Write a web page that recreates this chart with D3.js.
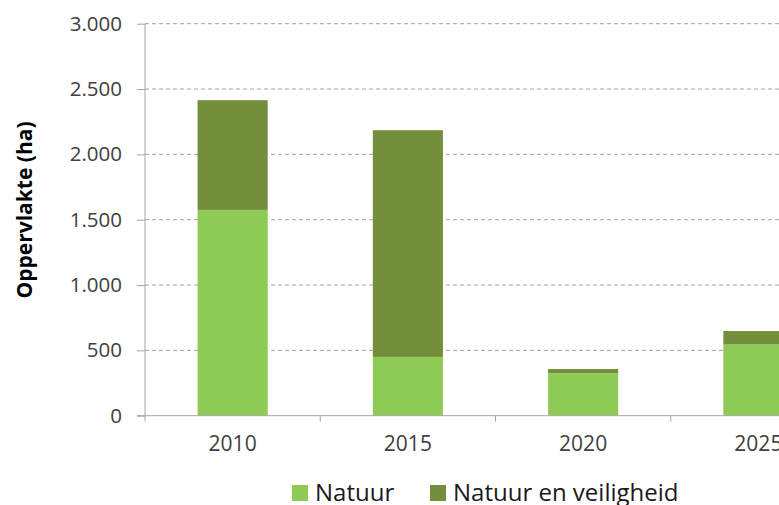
<!DOCTYPE html>
<html>
<head>
<meta charset="utf-8">
<script src="https://cdn.jsdelivr.net/npm/d3@7"></script>
<style>
  body { margin: 0; background: #fff; }
  svg { display: block; font-family: "Open Sans", "DejaVu Sans", sans-serif; }
</style>
</head>
<body>
<div class="chart"></div>
<script>
var years = ['2010', '2015', '2020', '2025'];
var natuur = [1575, 450, 325, 545];
var natuurVeiligheid = [840, 1735, 32, 103];
var yTicks = [0, 500, 1000, 1500, 2000, 2500, 3000];
var seriesNames = ['Natuur', 'Natuur en veiligheid'];
var colors = ['#8fc956', '#748f3b'];

var width = 779, height = 505;
var margin = { top: 23.7, left: 145, bottom: 89.3 };
var plotW = 701; // plot runs past the right edge, as in the original
var plotH = height - margin.top - margin.bottom;

var x = d3.scaleBand().domain(years).range([0, plotW]).paddingInner(0.6).paddingOuter(0.3);
var y = d3.scaleLinear().domain([0, 3000]).range([plotH, 0]);

var fmt = function(d) { return d3.format(',')(d).replace(/,/g, '.'); };

var svg = d3.select('.chart').append('svg')
    .attr('width', width)
    .attr('height', height);

var g = svg.append('g')
    .attr('transform', 'translate(' + margin.left + ',' + margin.top + ')');

// dashed gridlines
g.selectAll('.grid')
    .data(yTicks.filter(function(d) { return d > 0; }))
    .enter().append('line')
    .attr('x1', 0).attr('x2', plotW)
    .attr('y1', function(d) { return y(d); })
    .attr('y2', function(d) { return y(d); })
    .attr('stroke', '#a3a3a3')
    .attr('stroke-width', 1)
    .attr('stroke-dasharray', '4,3');

// stacked bars
var stack = d3.stack().keys([0, 1]).value(function(d, k) { return d[k]; });
var rows = years.map(function(yr, i) { return [natuur[i], natuurVeiligheid[i]]; });
var layers = stack(rows);

g.selectAll('.layer')
    .data(layers)
    .enter().append('g')
    .attr('fill', function(d, i) { return colors[i]; })
  .selectAll('rect')
    .data(function(d) { return d; })
    .enter().append('rect')
    .attr('x', function(d, i) { return x(years[i]); })
    .attr('width', x.bandwidth())
    .attr('y', function(d) { return y(d[1]); })
    .attr('height', function(d) { return y(d[0]) - y(d[1]); });

// y axis
var yAxis = g.append('g')
    .call(d3.axisLeft(y).tickValues(yTicks).tickFormat(fmt).tickSize(8).tickPadding(15))
    .attr('font-family', null)
    .attr('font-size', null);
yAxis.select('.domain').attr('stroke', '#a6a6a6').attr('d', 'M0,' + plotH + 'V0');
yAxis.selectAll('.tick line').attr('stroke', '#a6a6a6');
yAxis.selectAll('.tick text')
    .attr('fill', '#404040')
    .style('font-size', '20.5px');

// x axis
var xAxis = g.append('g')
    .attr('transform', 'translate(0,' + plotH + ')')
    .call(d3.axisBottom(x).tickSize(0).tickPadding(20))
    .attr('font-family', null)
    .attr('font-size', null);
xAxis.select('.domain').remove();
xAxis.append('line')
    .attr('x1', -8).attr('x2', plotW)
    .attr('stroke', '#a6a6a6');
xAxis.selectAll('.sep')
    .data(d3.range(years.length + 1))
    .enter().append('line')
    .attr('x1', function(i) { return i * x.step(); })
    .attr('x2', function(i) { return i * x.step(); })
    .attr('y1', 0).attr('y2', 6)
    .attr('stroke', '#a6a6a6');
xAxis.selectAll('.tick text')
    .attr('fill', '#404040')
    .style('font-size', '21px');

// y axis title
svg.append('text')
    .attr('transform', 'translate(32,210) rotate(-90)')
    .attr('text-anchor', 'middle')
    .style('font-size', '21px')
    .style('font-weight', 'bold')
    .attr('fill', '#000')
    .text('Oppervlakte (ha)');

// legend
var legendX = [292, 430];
var legend = svg.selectAll('.legend')
    .data(seriesNames)
    .enter().append('g')
    .attr('transform', function(d, i) { return 'translate(' + legendX[i] + ',485)'; });
legend.append('rect')
    .attr('width', 16).attr('height', 16)
    .attr('fill', function(d, i) { return colors[i]; });
legend.append('text')
    .attr('x', 23).attr('y', 16)
    .style('font-size', '24px')
    .attr('fill', '#1a1a1a')
    .text(function(d) { return d; });
</script>
</body>
</html>
